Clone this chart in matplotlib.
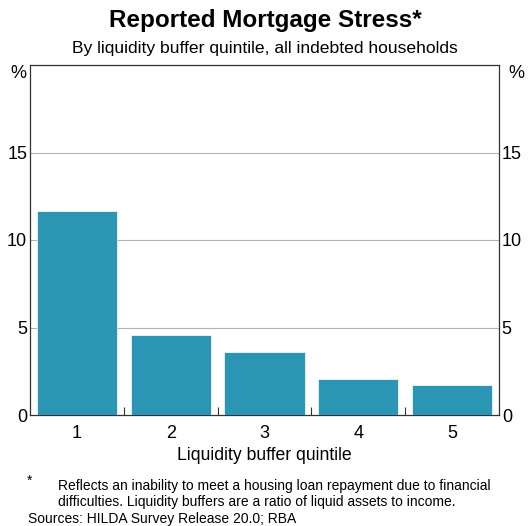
import matplotlib
matplotlib.use("Agg")
import matplotlib.pyplot as plt

plt.rcParams['font.family'] = ['Liberation Sans', 'DejaVu Sans']

# Reported mortgage stress by liquidity buffer quintile (%)
quintiles = ['1', '2', '3', '4', '5']
stress = [11.65, 4.6, 3.6, 2.05, 1.7]
yticks = [0, 5, 10, 15]

fig = plt.figure(figsize=(5.30, 5.26), dpi=100)
ax = fig.add_axes([30/530, 1-415/526, 469/530, 350/526])

x = list(range(len(quintiles)))
ax.bar(x, stress, width=0.855, color='#2a96b4', edgecolor='white', linewidth=0.5, zorder=3)
ax.set_xlim(-0.5, len(quintiles) - 0.5)
ax.set_ylim(0, 20)

for y in yticks[1:]:
    ax.axhline(y, color='#b3b3b3', linewidth=0.8, zorder=1)

ax.set_yticks(yticks)
ax.set_yticklabels([str(v) for v in yticks])
ax.tick_params(axis='y', length=0, labelsize=13, pad=2, labelright=True, right=False)
ax.set_xticks(x)
ax.set_xticklabels(quintiles)
ax.tick_params(axis='x', length=0, labelsize=13, pad=7)
# category separators
ax.set_xticks([i + 0.5 for i in x[:-1]], minor=True)
ax.tick_params(axis='x', which='minor', direction='in', length=6, width=0.8, color='#333333')

for s in ax.spines.values():
    s.set_linewidth(0.9)
    s.set_color('#333333')

ax.set_xlabel('Liquidity buffer quintile', fontsize=12.7, labelpad=4)

fig.text(0.5, 1-21/526, 'Reported Mortgage Stress*', ha='center', va='center',
         fontsize=17.5, fontweight='bold')
fig.text(0.5, 1-49/526, 'By liquidity buffer quintile, all indebted households',
         ha='center', va='center', fontsize=12.6)
fig.text(18/530, 1-73/526, '%', ha='center', va='center', fontsize=13)
fig.text(516/530, 1-73/526, '%', ha='center', va='center', fontsize=13)

fig.text(30/530, 1-481/526, '*', ha='center', va='center', fontsize=10)
fig.text(58/530, 1-486/526, 'Reflects an inability to meet a housing loan repayment due to financial',
         ha='left', va='center', fontsize=10)
fig.text(58/530, 1-502/526, 'difficulties. Liquidity buffers are a ratio of liquid assets to income.',
         ha='left', va='center', fontsize=10)
fig.text(28/530, 1-519/526, 'Sources: HILDA Survey Release 20.0; RBA',
         ha='left', va='center', fontsize=10)

fig.savefig('out.png', dpi=100)
